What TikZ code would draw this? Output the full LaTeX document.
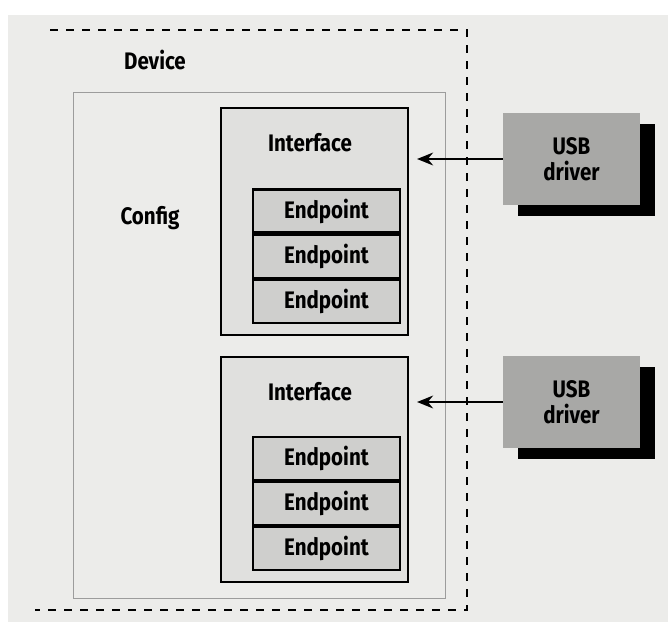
\documentclass[tikz,border=0pt]{standalone}
\usepackage{fontspec}
\setmainfont{Fira Sans}[FakeStretch=0.86]
\usetikzlibrary{arrows.meta, positioning, shadows}

\definecolor{pagegray}{HTML}{ECECEA}
\definecolor{configline}{HTML}{9C9C9C}
\definecolor{ifacefill}{HTML}{E0E0DE}
\definecolor{epfill}{HTML}{CFCFCD}
\definecolor{usbfill}{HTML}{A8A8A6}

\newcommand{\pxl}{0.25mm}

\begin{document}
\begin{tikzpicture}[x=0.25mm, y=-0.25mm,
        font=\fontsize{17}{18.5}\selectfont\bfseries,
        iface/.style={draw, line width=1.5pt, fill=ifacefill, minimum width=187*\pxl, inner sep=0pt},
        endpt/.style={draw, line width=1.5pt, fill=epfill, minimum width=147*\pxl, minimum height=43*\pxl, inner sep=0pt},
        usb/.style={fill=usbfill, minimum width=137*\pxl, minimum height=92*\pxl, align=center, inner sep=0pt,
            drop shadow={shadow xshift=15*\pxl, shadow yshift=-11*\pxl, fill=black, opacity=1}},
        feed/.style={line width=1.5pt, -{Stealth[length=4mm, width=3.2mm]}, shorten >=8*\pxl}]

        % ==========================================
        % Page and frame
        % ==========================================
        \useasboundingbox (0,0) rectangle (668,622);
        \fill[pagegray] (8,15) rectangle (668,622);

        % Device (dashed border, open on the left)
        \draw[line width=1.5pt, dash pattern=on 2mm off 2mm] (50,30) -- (467,30) -- (467,610) -- (35,610);
        \node (devlbl) at (155,60) {Device};

        % Config
        \node[draw=configline, line width=0.7pt, minimum width=372*\pxl, minimum height=506*\pxl] (config) at (259,345) {};
        \node (cfglbl) at (150,218) {Config};

        % ==========================================
        % First interface
        % ==========================================
        \node[iface, minimum height=227*\pxl] (if1) at (314.5,221.5) {};
        \node (if1lbl) at (310,143) {Interface};
        \node[endpt] (ep11) at (326.5,211) {Endpoint};
        \node[endpt, below=0pt of ep11] (ep12) {Endpoint};
        \node[endpt, below=0pt of ep12] (ep13) {Endpoint};

        % ==========================================
        % Second interface
        % ==========================================
        \node[iface, minimum height=225*\pxl] (if2) at (314.5,469.5) {};
        \node (if2lbl) at (310,392) {Interface};
        \node[endpt] (ep21) at (326.5,458.5) {Endpoint};
        \node[endpt, below=0pt of ep21] (ep22) {Endpoint};
        \node[endpt, below=0pt of ep22] (ep23) {Endpoint};

        % ==========================================
        % USB drivers and arrows
        % ==========================================
        \node[usb] (usb1) at (571.5,159) {USB\\driver};
        \node[usb] (usb2) at (571.5,402) {USB\\driver};

        \draw[feed] (usb1.west) -- (usb1.west -| if1.east);
        \draw[feed] (usb2.west) -- (usb2.west -| if2.east);

    \end{tikzpicture}
\end{document}
